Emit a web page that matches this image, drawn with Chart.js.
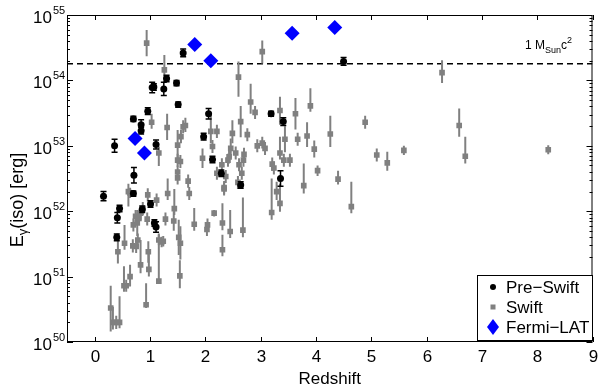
<!DOCTYPE html>
<html>
<head>
<meta charset="utf-8">
<script src="https://cdn.jsdelivr.net/npm/chart.js@4.4.1/dist/chart.umd.min.js"></script>
<style>
  html, body { margin: 0; padding: 0; background: #fff; }
  #wrap { width: 600px; height: 389px; }
</style>
</head>
<body>
<div id="wrap"><canvas id="chart-eiso"></canvas></div>
<script>
// values: [redshift, log10 E_iso, error down (dex), error up (dex)]
const preSwift = [
  [0.16, 52.23, 0.07, 0.07], [0.36, 53.00, 0.10, 0.10], [0.40, 51.60, 0.05, 0.05],
  [0.41, 51.90, 0.08, 0.08], [0.45, 52.04, 0.05, 0.05], [0.70, 52.27, 0.04, 0.04],
  [0.70, 53.41, 0.04, 0.04], [0.71, 52.55, 0.12, 0.12], [0.84, 53.32, 0.08, 0.08],
  [0.84, 53.23, 0.05, 0.05], [0.86, 52.03, 0.05, 0.05], [0.96, 53.53, 0.05, 0.05],
  [1.01, 52.11, 0.05, 0.05], [1.04, 53.89, 0.08, 0.08], [1.07, 53.90, 0.05, 0.05],
  [1.08, 51.82, 0.05, 0.05], [1.11, 53.02, 0.07, 0.07], [1.11, 51.76, 0.08, 0.08],
  [1.25, 53.87, 0.10, 0.10], [1.30, 54.03, 0.05, 0.05], [1.48, 53.96, 0.04, 0.04],
  [1.51, 53.63, 0.04, 0.04], [1.60, 54.42, 0.06, 0.06], [1.97, 53.14, 0.05, 0.05],
  [2.06, 53.49, 0.08, 0.08], [2.13, 52.79, 0.05, 0.05], [2.29, 52.58, 0.05, 0.05],
  [2.64, 52.40, 0.05, 0.05], [3.19, 53.49, 0.04, 0.04], [3.36, 52.50, 0.12, 0.12],
  [3.41, 53.37, 0.06, 0.06], [4.50, 54.29, 0.06, 0.06]
];

const swift = [
  [0.94, 54.57, 0.20, 0.20], [1.26, 54.16, 0.20, 0.23], [2.60, 54.05, 0.30, 0.24],
  [3.03, 54.44, 0.18, 0.17], [6.28, 54.12, 0.16, 0.19], [2.82, 53.67, 0.18, 0.28],
  [2.90, 53.51, 0.10, 0.10], [2.64, 53.37, 0.24, 0.24], [1.03, 53.36, 0.10, 0.13],
  [1.31, 53.28, 0.19, 0.21], [1.60, 53.29, 0.10, 0.10], [1.64, 53.31, 0.10, 0.12],
  [1.56, 53.14, 0.10, 0.10], [1.50, 53.01, 0.28, 0.23], [1.50, 52.78, 0.10, 0.10],
  [1.55, 52.76, 0.10, 0.10], [1.50, 52.60, 0.10, 0.10], [1.50, 52.51, 0.10, 0.10],
  [1.69, 52.46, 0.10, 0.10], [1.71, 52.27, 0.10, 0.10], [1.16, 52.89, 0.20, 0.10],
  [1.32, 52.27, 0.10, 0.23], [1.95, 52.81, 0.15, 0.15], [2.10, 53.22, 0.18, 0.26],
  [2.13, 52.99, 0.10, 0.10], [2.21, 53.22, 0.10, 0.10], [2.21, 52.58, 0.10, 0.10],
  [2.34, 52.34, 0.10, 0.10], [2.37, 52.53, 0.10, 0.10], [2.43, 52.83, 0.10, 0.10],
  [2.41, 52.78, 0.10, 0.10], [2.46, 52.96, 0.15, 0.15], [2.49, 53.19, 0.15, 0.20],
  [2.55, 52.89, 0.10, 0.10], [2.59, 52.44, 0.10, 0.10], [2.61, 52.71, 0.10, 0.10],
  [2.66, 52.58, 0.10, 0.10], [2.69, 52.78, 0.10, 0.10], [2.70, 52.87, 0.10, 0.10],
  [2.76, 53.17, 0.10, 0.10], [2.94, 53.00, 0.10, 0.10], [3.03, 53.04, 0.08, 0.10],
  [3.08, 52.96, 0.10, 0.10], [3.35, 53.54, 0.22, 0.21], [3.35, 52.89, 0.10, 0.25],
  [3.42, 52.78, 0.10, 0.10], [3.44, 53.10, 0.20, 0.20], [3.53, 52.78, 0.10, 0.10],
  [3.63, 53.49, 0.24, 0.24], [3.67, 53.10, 0.10, 0.10], [3.84, 53.15, 0.17, 0.21],
  [3.90, 53.61, 0.09, 0.27], [3.97, 52.95, 0.13, 0.13], [4.03, 52.62, 0.08, 0.08],
  [4.26, 53.18, 0.20, 0.28], [4.40, 52.49, 0.08, 0.13], [4.89, 53.36, 0.10, 0.10],
  [5.10, 52.86, 0.10, 0.10], [5.29, 52.74, 0.12, 0.17], [5.59, 52.93, 0.07, 0.07],
  [6.59, 53.31, 0.17, 0.26], [6.70, 52.84, 0.11, 0.30], [8.20, 52.94, 0.07, 0.07],
  [3.21, 52.72, 0.10, 0.10], [3.24, 52.66, 0.10, 0.10], [2.30, 52.71, 0.10, 0.10],
  [3.78, 52.39, 0.12, 0.34], [3.29, 52.30, 0.13, 0.15], [3.20, 51.98, 0.11, 0.52],
  [3.35, 52.12, 0.13, 0.30], [4.64, 52.07, 0.10, 0.38], [2.31, 51.82, 0.11, 0.30],
  [2.31, 51.41, 0.10, 0.23], [2.45, 51.69, 0.10, 0.33], [2.68, 51.71, 0.11, 0.50],
  [2.34, 52.36, 0.10, 0.10], [0.29, 50.52, 0.36, 0.34], [0.33, 50.30, 0.11, 0.24],
  [0.39, 50.30, 0.10, 0.10], [0.45, 50.30, 0.09, 0.40], [0.53, 50.86, 0.09, 0.30],
  [0.57, 50.86, 0.09, 0.09], [0.64, 51.00, 0.15, 0.18], [0.42, 51.38, 0.18, 0.28],
  [0.54, 51.51, 0.10, 0.28], [0.69, 51.47, 0.10, 0.10], [0.75, 51.46, 0.10, 0.10],
  [0.83, 51.18, 0.13, 0.38], [0.93, 50.57, 0.05, 0.33], [0.98, 51.11, 0.11, 0.30],
  [0.97, 51.38, 0.17, 0.16], [1.16, 50.93, 0.04, 0.73], [1.16, 51.56, 0.08, 0.08],
  [1.21, 51.53, 0.08, 0.08], [1.24, 51.54, 0.08, 0.08], [1.28, 51.88, 0.10, 0.10],
  [1.43, 51.85, 0.15, 0.15], [1.52, 51.60, 0.27, 0.27], [1.55, 51.51, 0.25, 0.26],
  [1.54, 51.01, 0.19, 0.24], [1.80, 51.80, 0.10, 0.25], [2.03, 51.72, 0.10, 0.10],
  [2.04, 51.79, 0.10, 0.10], [2.16, 51.97, 0.05, 0.05], [0.77, 51.82, 0.20, 0.20],
  [0.80, 51.89, 0.10, 0.10], [0.83, 51.97, 0.10, 0.10], [0.87, 52.04, 0.10, 0.10],
  [0.96, 52.25, 0.10, 0.10], [0.95, 51.88, 0.10, 0.10], [0.74, 51.92, 0.10, 0.10],
  [0.61, 52.30, 0.23, 0.12], [0.64, 52.28, 0.08, 0.08], [1.12, 52.17, 0.10, 0.10],
  [0.70, 51.79, 0.10, 0.10], [1.44, 52.04, 0.10, 0.30], [0.78, 51.56, 0.10, 0.10]
];

// [redshift, log10 E_iso]
const fermiLat = [
  [0.73, 53.11], [0.90, 52.89], [1.81, 54.55], [2.10, 54.30], [3.57, 54.72], [4.34, 54.81]
];

const xTicks = [0, 1, 2, 3, 4, 5, 6, 7, 8, 9];
const yDecades = [50, 51, 52, 53, 54, 55];
const mSunC2 = 1.8e54; // erg
const legendNames = ["Pre\u2212Swift", "Swift", "Fermi\u2212LAT"];

function toPoints(rows) {
  return rows.map(function (r) {
    var p = { x: r[0], y: Math.pow(10, r[1]) };
    if (r.length > 2) {
      p.lo = Math.pow(10, r[1] - r[2]);
      p.hi = Math.pow(10, r[1] + r[3]);
    }
    return p;
  });
}

const FONT = "'Liberation Sans', Arial, Helvetica, sans-serif";

// vertical error bars, drawn under each dataset's markers
const errorBars = {
  id: "errorBars",
  beforeDatasetDraw: function (chart, args) {
    var ds = chart.data.datasets[args.index];
    if (!ds.errColor) return;
    var ctx = chart.ctx, y = chart.scales.y, area = chart.chartArea;
    ctx.save();
    ctx.beginPath();
    ctx.rect(area.left, area.top, area.right - area.left, area.bottom - area.top);
    ctx.clip();
    ctx.strokeStyle = ds.errColor;
    ctx.lineWidth = ds.errWidth;
    args.meta.data.forEach(function (el, i) {
      var raw = ds.data[i];
      if (raw.lo === undefined) return;
      var yl = y.getPixelForValue(raw.lo), yh = y.getPixelForValue(raw.hi);
      ctx.beginPath();
      ctx.moveTo(el.x, yl);
      ctx.lineTo(el.x, yh);
      if (ds.errCap) {
        ctx.moveTo(el.x - ds.errCap, yl); ctx.lineTo(el.x + ds.errCap, yl);
        ctx.moveTo(el.x - ds.errCap, yh); ctx.lineTo(el.x + ds.errCap, yh);
      }
      ctx.stroke();
    });
    ctx.restore();
  }
};

// axes box, inward ticks, tick labels, titles, legend and line label
const frame = {
  id: "frame",
  afterDraw: function (chart) {
    var ctx = chart.ctx, a = chart.chartArea;
    var xs = chart.scales.x, ys = chart.scales.y;
    ctx.save();
    ctx.strokeStyle = "#000";
    ctx.fillStyle = "#000";
    ctx.lineWidth = 1;
    ctx.strokeRect(a.left + 0.5, a.top + 0.5, a.right - a.left - 1, a.bottom - a.top - 1);

    ctx.font = "17px " + FONT;
    ctx.textAlign = "center";
    ctx.textBaseline = "middle";
    xTicks.forEach(function (t) {
      var px = Math.round(xs.getPixelForValue(t)) + 0.5;
      ctx.beginPath();
      ctx.moveTo(px, a.bottom); ctx.lineTo(px, a.bottom - 5);
      ctx.moveTo(px, a.top); ctx.lineTo(px, a.top + 5);
      ctx.stroke();
      ctx.fillText(String(t), px, a.bottom + 15);
    });
    ctx.fillText("Redshift", (a.left + a.right) / 2, a.bottom + 37);

    yDecades.forEach(function (n) {
      var py = Math.round(ys.getPixelForValue(Math.pow(10, n))) + 0.5;
      ctx.beginPath();
      ctx.moveTo(a.left, py); ctx.lineTo(a.left + 6, py);
      ctx.moveTo(a.right, py); ctx.lineTo(a.right - 6, py);
      ctx.stroke();
      if (n < 55) {
        for (var m = 2; m <= 9; m++) {
          var pm = Math.round(ys.getPixelForValue(m * Math.pow(10, n))) + 0.5;
          ctx.beginPath();
          ctx.moveTo(a.left, pm); ctx.lineTo(a.left + 3, pm);
          ctx.moveTo(a.right, pm); ctx.lineTo(a.right - 3, pm);
          ctx.stroke();
        }
      }
      ctx.font = "17px " + FONT;
      ctx.textAlign = "right";
      ctx.fillText("10", 52, py + 3);
      ctx.font = "11px " + FONT;
      ctx.textAlign = "left";
      ctx.fillText(String(n), 53, py - 5);
    });

    // y title: E_gamma(iso) [erg], rotated
    ctx.save();
    ctx.translate(17, 200);
    ctx.rotate(-Math.PI / 2);
    ctx.textAlign = "left";
    ctx.textBaseline = "alphabetic";
    ctx.font = "18px " + FONT;
    var wE = ctx.measureText("E").width;
    var wR = ctx.measureText("(iso) [erg]").width;
    ctx.font = "13px " + FONT;
    var wG = ctx.measureText("\u03b3").width;
    var x0 = -(wE + wG + wR) / 2;
    ctx.font = "18px " + FONT;
    ctx.fillText("E", x0, 6);
    ctx.font = "13px " + FONT;
    ctx.fillText("\u03b3", x0 + wE, 10);
    ctx.font = "18px " + FONT;
    ctx.fillText("(iso) [erg]", x0 + wE + wG, 6);
    ctx.restore();

    // label of the dashed line
    var ly = ys.getPixelForValue(mSunC2) - 15;
    ctx.textAlign = "left";
    ctx.textBaseline = "alphabetic";
    var lx = 525;
    ctx.font = "12px " + FONT;
    ctx.fillText("1 M", lx, ly);
    lx += ctx.measureText("1 M").width;
    ctx.font = "9px " + FONT;
    ctx.fillText("Sun", lx, ly + 4);
    lx += ctx.measureText("Sun").width;
    ctx.font = "12px " + FONT;
    ctx.fillText("c", lx, ly);
    lx += ctx.measureText("c").width;
    ctx.font = "9px " + FONT;
    ctx.fillText("2", lx, ly - 6);

    // legend
    var lb = { left: 477, top: 275, right: 592, bottom: 340 };
    ctx.fillStyle = "#fff";
    ctx.fillRect(lb.left, lb.top, lb.right - lb.left, lb.bottom - lb.top);
    ctx.strokeStyle = "#000";
    ctx.strokeRect(lb.left + 0.5, lb.top + 0.5, lb.right - lb.left, lb.bottom - lb.top);
    var rows = [287, 307, 327];
    var mx = 493;
    ctx.fillStyle = "#000";
    ctx.beginPath(); ctx.arc(mx, rows[0], 3, 0, Math.PI * 2); ctx.fill();
    ctx.fillStyle = "#808080";
    ctx.fillRect(mx - 2.5, rows[1] - 2.5, 5, 5);
    ctx.fillStyle = "#0000ff";
    ctx.beginPath();
    ctx.moveTo(mx, rows[2] - 8); ctx.lineTo(mx + 6, rows[2]);
    ctx.lineTo(mx, rows[2] + 8); ctx.lineTo(mx - 6, rows[2]);
    ctx.closePath(); ctx.fill();
    ctx.fillStyle = "#000";
    ctx.font = "17px " + FONT;
    ctx.textBaseline = "middle";
    legendNames.forEach(function (name, i) {
      ctx.fillText(name, 506, rows[i] + 1);
    });
    ctx.restore();
  }
};

var ctx = document.getElementById("chart-eiso").getContext("2d");

new Chart(ctx, {
  type: "scatter",
  data: {
    datasets: [
      {
        label: legendNames[2],
        data: toPoints(fermiLat),
        pointStyle: "rectRot",
        pointRadius: 7.5,
        backgroundColor: "#0000ff",
        borderColor: "#0000ff",
        borderWidth: 0
      },
      {
        label: legendNames[0],
        data: toPoints(preSwift),
        pointStyle: "circle",
        pointRadius: 3.5,
        backgroundColor: "#000",
        borderColor: "#000",
        borderWidth: 0,
        errColor: "#000",
        errWidth: 1.5,
        errCap: 3
      },
      {
        label: legendNames[1],
        data: toPoints(swift),
        pointStyle: "rect",
        pointRadius: 4,
        backgroundColor: "#808080",
        borderColor: "#808080",
        borderWidth: 0,
        errColor: "#808080",
        errWidth: 2
      },
      {
        type: "line",
        label: "1 MSun c2",
        data: [{ x: -0.5, y: mSunC2 }, { x: 9, y: mSunC2 }],
        borderColor: "#000",
        borderWidth: 1.5,
        borderDash: [6, 4],
        pointRadius: 0,
        fill: false
      }
    ]
  },
  options: {
    responsive: true,
    maintainAspectRatio: false,
    animation: false,
    layout: {
      padding: { left: 67, right: 5, top: 15, bottom: 47 }
    },
    plugins: {
      legend: { display: false },
      tooltip: { enabled: false }
    },
    scales: {
      x: { type: "linear", min: -0.5, max: 9, display: false },
      y: { type: "logarithmic", min: 1e50, max: 1e55, display: false }
    }
  },
  plugins: [errorBars, frame]
});
</script>
</body>
</html>
